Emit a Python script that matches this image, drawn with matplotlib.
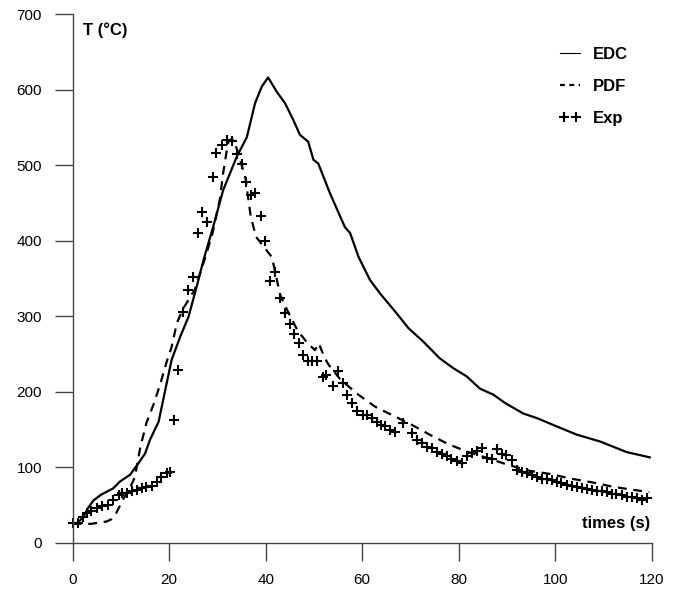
import matplotlib
matplotlib.use('Agg')
import matplotlib.pyplot as plt
from matplotlib.lines import Line2D
from matplotlib.legend_handler import HandlerLine2D

plt.rcParams['font.family'] = ['Liberation Sans', 'DejaVu Sans']

# EDC model (solid)
edc_t = [0, 1.0, 2.2, 3.2, 4.3, 6.0, 8.4, 9.8, 11.9, 13.6, 15.0, 16.0, 17.8, 20.5, 22.3, 24.0, 25.7,
         27.1, 29.1, 31.2, 32.6, 34.0, 36.1, 37.8, 39.2, 40.5, 42.3, 44.0, 45.7, 47.1, 48.8, 49.9,
         50.9, 53.3, 56.4, 57.5, 59.2, 61.6, 63.7, 67.1, 69.6, 72.7, 76.1, 78.9, 81.7, 84.4, 87.2,
         89.6, 93.4, 96.2, 100.3, 104.5, 109.3, 114.8, 119.6]
edc_T = [25, 26, 34, 46, 56, 64, 72, 81, 90, 105, 118, 136, 160, 242, 273, 299, 339,
         374, 418, 467, 489, 511, 537, 582, 604, 616, 597, 582, 560, 540, 531, 507,
         502, 463, 418, 410, 379, 348, 330, 304, 284, 266, 244, 231, 220, 204, 196,
         185, 171, 165, 154, 143, 134, 120, 113]

# PDF model (dashed)
pdf_t = [0, 3.9, 5.7, 7.0, 8.0, 9.0, 10.5, 12.2, 12.9, 14.0, 15.3, 16.7, 18.1, 19.5, 20.5, 21.6,
         22.9, 25.3, 27.5, 29.0, 30.5, 31.2, 32.2, 33.0, 34.0, 35.8, 36.9, 38.0, 41.3, 43.0, 44.6,
         46.6, 48.7, 50.2, 51.0, 52.2, 53.0, 55.5, 59.2, 62.7, 66.5, 70.3, 74.0, 78.0, 82.0, 86.0,
         90.3, 94.8, 99.0, 103.1, 107.6, 112.0, 116.2, 119.5]
pdf_T = [25, 25, 27, 28, 31, 39, 58, 77, 87, 126, 159, 182, 209, 240, 259, 291,
         310, 335, 378, 410, 455, 490, 530, 535, 522, 483, 432, 405, 378, 328, 306,
         281, 264, 255, 264, 245, 236, 216, 196, 180, 168, 156, 143, 130, 120, 112,
         103, 95, 91, 85, 80, 74, 70, 67]

# experiment (+ markers)
exp_t = [0.1, 1.2, 2.2, 2.9, 3.9, 5.0, 6.0, 7.4, 8.4, 9.5, 10.2, 11.2, 12.2, 13.3, 14.3, 15.3,
         16.4, 17.4, 18.4, 19.5, 20.2, 20.9, 21.9, 22.9, 24.0, 25.0, 26.0, 26.9, 27.8, 29.0, 29.8,
         30.9, 31.9, 33.0, 34.0, 35.0, 35.9, 36.9, 37.8, 39.0, 39.9, 40.9, 41.9, 43.0, 44.0, 45.0,
         45.9, 46.9, 47.8, 48.8, 49.7, 50.7, 51.8, 52.6, 54.0, 55.0, 56.0, 56.9, 57.8, 59.0, 60.1,
         61.0, 62.0, 63.0, 64.0, 64.7, 65.8, 66.8, 68.5, 70.3, 71.3, 72.3, 73.4, 74.4, 75.4, 76.5,
         77.5, 78.5, 79.6, 80.6, 81.8, 82.7, 83.7, 84.8, 85.8, 86.8, 87.9, 88.9, 89.9, 91.0, 92.0,
         93.1, 94.1, 95.1, 96.2, 97.2, 98.2, 99.3, 100.3, 101.3, 102.4, 103.4, 104.5, 105.5, 106.5,
         107.6, 108.6, 109.6, 110.7, 111.7, 112.7, 113.8, 114.8, 115.9, 116.9, 117.9, 119.0]
exp_T = [26, 26, 34, 39, 42, 46, 48, 50, 57, 63, 66, 66, 69, 70, 72, 74,
         75, 81, 87, 92, 94, 162, 229, 306, 334, 352, 410, 438, 424, 484, 516,
         527, 533, 532, 514, 502, 478, 461, 463, 432, 400, 347, 359, 324, 304, 290,
         276, 264, 248, 240, 240, 240, 220, 222, 207, 228, 211, 196, 185, 174, 169,
         169, 165, 160, 156, 154, 149, 147, 158, 145, 136, 132, 127, 125, 120, 117,
         115, 111, 108, 105, 115, 119, 122, 125, 112, 111, 124, 117, 116, 110, 96,
         93, 92, 90, 87, 85, 84, 83, 81, 79, 77, 75, 74, 72, 71,
         70, 69, 68, 67, 65, 64, 63, 61, 60, 59, 57, 59]

x_ticks = [0, 20, 40, 60, 80, 100, 120]
y_ticks = [0, 100, 200, 300, 400, 500, 600, 700]

fig = plt.figure(figsize=(6.83, 5.91), dpi=100)
ax = fig.add_axes([0.1064, 0.0817, 0.8478, 0.8946])

ax.plot(edc_t, edc_T, color='black', lw=1.6, solid_joinstyle='round')
ax.plot(pdf_t, pdf_T, color='black', lw=1.6, ls=(0, (4, 3)))
ax.plot(exp_t, exp_T, ls='none', marker='+', color='black', markersize=6.5, mew=1.5, clip_on=False)

ax.set_xlim(0, 120)
ax.set_ylim(0, 700)
ax.set_xticks(x_ticks)
ax.set_yticks(y_ticks)
for s in ['top', 'right']:
    ax.spines[s].set_visible(False)
for s in ['left', 'bottom']:
    ax.spines[s].set_color('#444444')
    ax.spines[s].set_linewidth(1.0)
ax.tick_params(direction='out', length=13, width=1.0, color='#444444', labelsize=11, pad=9)

ax.text(0.018, 0.97, 'T (°C)', transform=ax.transAxes, ha='left', va='center',
        fontsize=12, fontweight='bold')
ax.text(0.998, 0.037, 'times (s)', transform=ax.transAxes, ha='right', va='center',
        fontsize=12, fontweight='bold')

h_edc = Line2D([], [], color='black', lw=0.8)
h_pdf = Line2D([], [], color='black', lw=1.6, ls=(0, (2.2, 2.0)))
h_exp = Line2D([], [], ls='none', marker='+', color='black', markersize=6.5, mew=1.5)
ax.legend([h_edc, h_pdf, h_exp], ['EDC', 'PDF', 'Exp'], loc='upper left',
          bbox_to_anchor=(0.833, 0.937), frameon=False, numpoints=2,
          handlelength=1.8, handletextpad=0.5, labelspacing=1.0,
          borderpad=0, borderaxespad=0, prop={'weight': 'bold', 'size': 12},
          handler_map={h_exp: HandlerLine2D(numpoints=2, marker_pad=0.54)})

plt.savefig('out.png', dpi=100)
plt.close()
